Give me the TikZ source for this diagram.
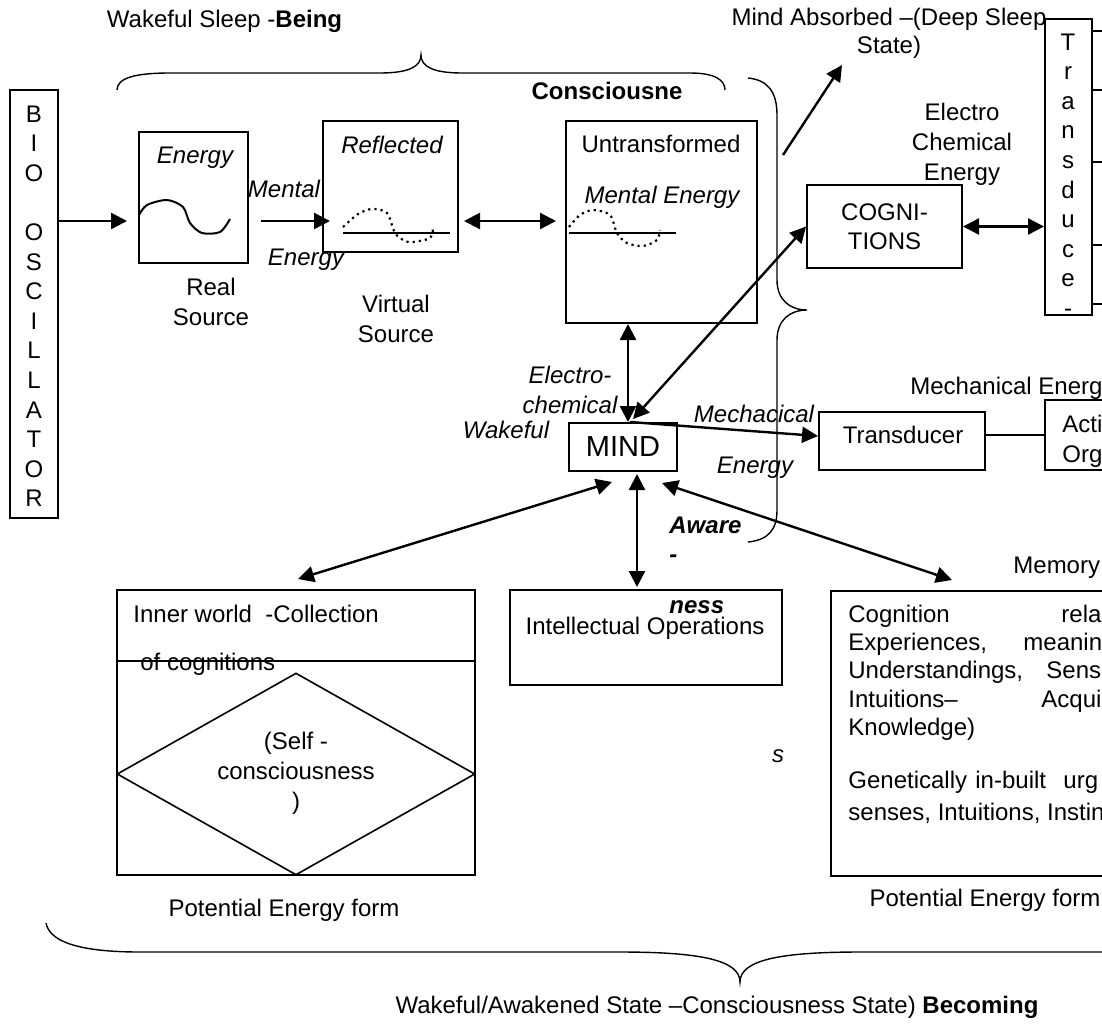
\documentclass[tikz,border=0pt]{standalone}
\usepackage{fontspec}
\setmainfont{Liberation Sans}
\usetikzlibrary{arrows.meta,calc,shapes.geometric}
\begin{document}
\begin{tikzpicture}[x=0.5pt,y=-0.5pt,
  box/.style={draw,line width=1pt,inner sep=0pt},
  arr/.style={line width=1.2pt,-{Triangle[length=8pt,width=8pt]}},
  darr/.style={line width=1.2pt,{Triangle[length=8pt,width=8pt]}-{Triangle[length=8pt,width=8pt]}},
  brace/.style={line width=0.7pt},
  txt/.style={inner sep=0pt,font=\fontsize{12}{15}\selectfont},
  itxt/.style={inner sep=0pt,font=\fontsize{12}{15}\selectfont\itshape},
  btxt/.style={inner sep=0pt,font=\fontsize{12}{15}\selectfont\bfseries},
  bitxt/.style={inner sep=0pt,font=\fontsize{12}{15}\selectfont\bfseries\itshape},
  wave/.style={line width=1pt},
  dwave/.style={line width=1.1pt,dotted},
  thinline/.style={line width=1pt},
]
\useasboundingbox (0,0) rectangle (1102,1023);
\clip (0,0) rectangle (1102,1023);

% ---------- titles ----------
\node[txt,anchor=base] (title) at (224.5,27) {Wakeful Sleep -\textbf{Being}};
\node[btxt,anchor=base] (consc) at (607,99) {Consciousne};
\node[txt,align=center,font=\fontsize{12}{14}\selectfont] (absorbed) at (889,33.5) {Mind Absorbed –(Deep Sleep\\State)};

% ---------- braces ----------
\draw[brace] (117,90) .. controls (117,78) and (135,73) .. (170,73) -- (380,73)
  .. controls (410,73) and (421,66) .. (421,55)
  .. controls (421,66) and (432,73) .. (462,73) -- (690,73)
  .. controls (715,73) and (725,80) .. (725,90);
\draw[brace] (748,78) .. controls (768,80) and (777,92) .. (777,115) -- (777,280)
  .. controls (777,300) and (790,310) .. (807,310)
  .. controls (790,310) and (777,320) .. (777,340) -- (777,510)
  .. controls (777,530) and (768,540) .. (748,542);
\draw[brace] (46,923) .. controls (50,945) and (90,952) .. (140,952) -- (620,952)
  .. controls (700,952) and (740,960) .. (740,982)
  .. controls (740,960) and (780,952) .. (860,952) -- (1102,952);

% ---------- BIO OSCILLATOR ----------
\node[box,minimum width=24pt,minimum height=214pt] (bio) at (34,304) {};
\foreach \l/\k in {B/0,I/1,O/2,O/4,S/5,C/6,I/7,L/8,L/9,A/10,T/11,O/12,R/13}
  \node[txt,anchor=base] (bio\k) at (34,{122+29.6*\k}) {\l};

% ---------- Energy box ----------
\node[box,minimum width=54.5pt,minimum height=65.5pt] (ebox) at (193.5,197.5) {};
\node[itxt,anchor=base] (etitle) at (195,163) {Energy};
\draw[wave] plot[smooth] coordinates {(139,215) (147,205) (167,200) (183,207) (190,223) (202,233) (220,232) (230,219)};
\node[txt,align=center] (real) at (211,301.5) {Real\\Source};
\node[itxt,anchor=base] (mental1) at (284,197) {Mental};
\node[itxt,anchor=base] (energy1) at (306,265) {Energy};

% ---------- Reflected box ----------
\node[box,minimum width=67.5pt,minimum height=65.5pt] (refl) at (390.5,186.5) {};
\node[itxt,anchor=base] (refltxt) at (392,153) {Reflected};
\draw[wave] (343,233) -- (450,233);
\draw[dwave] plot[smooth] coordinates {(343,227) (358,214) (372,209) (387,213) (395,233) (405,241) (413,242) (430,238) (433,228)};
\node[txt,align=center] (virt) at (396,318.5) {Virtual\\Source};

% ---------- Untransformed box ----------
\node[box,minimum width=95.5pt,minimum height=101pt] (untr) at (661.5,222) {};
\node[txt,anchor=base] (untrtxt) at (661,152) {Untransformed};
\node[itxt,anchor=base] (menergy) at (662,203) {Mental Energy};
\draw[wave] (569,233) -- (676,233);
\draw[dwave] plot[smooth] coordinates {(569,227) (580,215) (593,210) (610,215) (617,233) (627,243) (643,246) (657,240) (660,230)};

% ---------- right top ----------
\node[txt,align=center] (ece) at (962,144) {Electro\\Chemical\\Energy};
\node[box,minimum width=77.5pt,minimum height=41.5pt,align=center,font=\fontsize{12}{14.5}\selectfont] (cogn) at (884.5,226.5) {COGNI-\\TIONS};
\node[box,minimum width=23.5pt,minimum height=148pt] (transv) at (1068.5,167) {};
\foreach \l [count=\k from 0] in {T,r,a,n,s,d,u,c,e,-}
  \node[txt,anchor=base] (tv\k) at (1068,{50+29.6*\k}) {\l};
\foreach \yy in {31,90,162,245,304}
  \draw[thinline] (transv.east |- 0,\yy) -- (1102,\yy);

% ---------- MIND row ----------
\node[box,minimum width=54pt,minimum height=24pt,font=\fontsize{14.5}{17}\selectfont] (mind) at (623,447) {MIND};
\node[itxt,align=center] (elchem) at (570,389.5) {Electro-\\chemical};
\node[itxt,anchor=base] (wakeful) at (506,438) {Wakeful};
\node[itxt,anchor=base] (mecha) at (754,422) {Mechacical};
\node[itxt,anchor=base] (menergy2) at (755,473) {Energy};
\node[box,minimum width=83pt,minimum height=29pt] (transh) at (902,441) {};
\node[txt,anchor=base] (transhtxt) at (903,443) {Transducer};
\node[inner sep=0pt,minimum width=28.5pt,minimum height=35pt,anchor=west] (action) at (1045,435) {};
\draw[thinline] (action.north east) -- (action.north west) -- (action.south west) -- (action.south east);
\node[txt,anchor=base west] (acti) at (1062,432) {Acti};
\node[txt,anchor=base west] (org) at (1062,462) {Org};
\node[txt,anchor=base west] (mechE) at (910,394) {Mechanical Energ};
\node[bitxt,anchor=base west] (aware) at (669,533) {Aware};
\node[bitxt,anchor=base west] (dashtxt) at (669,562) {-};

% ---------- bottom boxes ----------
\node[box,minimum width=136pt,minimum height=47.5pt] (intel) at (646,637.5) {};
\node[bitxt,anchor=base west] (ness) at (669,613) {ness};
\node[txt,anchor=base] (inteltxt) at (645,634) {Intellectual Operations};
\node[itxt,anchor=base] (stxt) at (778,762) {s};

\node[box,minimum width=179pt,minimum height=142.5pt] (inner) at (296,732.5) {};
\draw[thinline] (inner.west |- 0,661) -- (inner.east |- 0,661);
\node[draw,diamond,line width=0.8pt,inner sep=0pt,minimum width=179pt,minimum height=101pt] (diam) at (296,774) {};
\node[txt,align=center] (self) at (296,773) {(Self -\\consciousness\\)};
\node[txt,anchor=base west] (innertxt) at (133,622) {Inner world\ \ -Collection};
\node[txt,anchor=base west] (ofcog) at (140,670) {of cognitions};
\node[txt,anchor=base] (pot1) at (284,916) {Potential Energy form};

\node[inner sep=0pt,minimum width=135.5pt,minimum height=142pt,anchor=north west] (memory) at (831,591) {};
\draw[thinline] (memory.north east) -- (memory.north west) -- (memory.south west) -- (memory.south east);
\node[txt,anchor=base west] (memtitle) at (1013,573) {Memory};
\node[txt,anchor=base west] (m1a) at (848,622) {Cognition};
\node[txt,anchor=base west] (m1b) at (1061,622) {rela};
\node[txt,anchor=base west] (m2a) at (848,650) {Experiences,};
\node[txt,anchor=base west] (m2b) at (1023,650) {meanin};
\node[txt,anchor=base west] (m3a) at (848,678) {Understandings,};
\node[txt,anchor=base west] (m3b) at (1046,678) {Sens};
\node[txt,anchor=base west] (m4a) at (848,707) {Intuitions–};
\node[txt,anchor=base west] (m4b) at (1041,707) {Acqui};
\node[txt,anchor=base west] (m5a) at (848,735) {Knowledge)};
\node[txt,anchor=base west] (m6a) at (848,788) {Genetically};
\node[txt,anchor=base west] (m6b) at (975,788) {in-built};
\node[txt,anchor=base west] (m6c) at (1063,788) {urg};
\node[txt,anchor=base west] (m7a) at (848,820) {senses, Intuitions, Instin};
\node[txt,anchor=base] (pot2) at (985,906) {Potential Energy form};

\node[txt,anchor=base] (bottomtxt) at (717,1013) {Wakeful/Awakened State –Consciousness State) \textbf{Becoming}};

% ---------- connectors ----------
\coordinate (y221) at (0,221);
\draw[arr,shorten >=5.5pt] (bio.east |- y221) -- (ebox.west |- y221);
\draw[arr,shorten <=6pt,shorten >=-4pt] (ebox.east |- y221) -- (refl.west |- y221);
\draw[darr,shorten <=2.5pt,shorten >=4.5pt] (refl.east |- y221) -- (untr.west |- y221);
\draw[darr] (untr.south -| 628,0) -- (mind.north -| 628,0);
\draw[darr] ($(mind.north)+(10,-3)$) -- (cogn.west);
\coordinate (abs1) at (783,155);
\coordinate (abs2) at (842,65);
\draw[arr] (abs1) -- (abs2);
\draw[arr] ($(mind.north)+(7,0)$) -- ($(transh.west)+(0,-5)$);
\draw[thinline] (transh.east |- action.west) -- (action.west);
\draw[darr] (cogn.east) -- (transv.west |- cogn.east);
\draw[darr] ($(mind.south)+(-11,10)$) -- ($(inner.north)+(2,-10)$);
\draw[darr] ($(mind.south)+(14,2)$) -- ($(intel.north)+(-9,-2)$);
\draw[darr] ($(mind.south)+(39,11)$) -- ($(memory.north west)+(121,-11)$);
\end{tikzpicture}
\end{document}
